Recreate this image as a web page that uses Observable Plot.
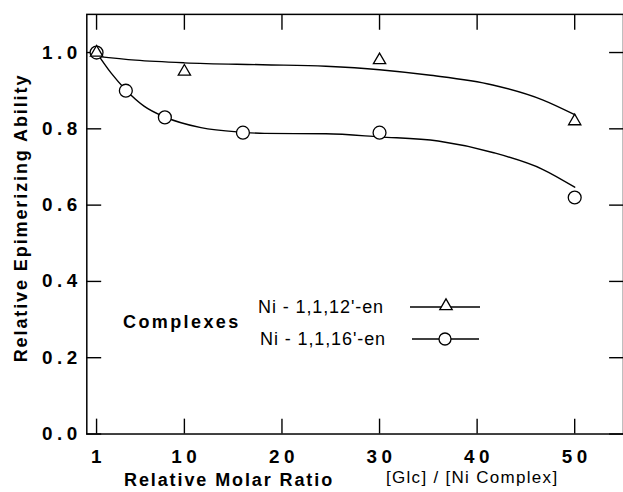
<!DOCTYPE html>
<html><head><meta charset="utf-8">
<script src="https://cdn.jsdelivr.net/npm/d3@7"></script>
<script src="https://cdn.jsdelivr.net/npm/@observablehq/plot@0.6"></script>
<style>
body{margin:0;background:#fff;}
#wrap{position:relative;width:623px;height:492px;overflow:hidden;font-family:"Liberation Sans",Arial,sans-serif;color:#000;background:#fff;}
#wrap svg{position:absolute;left:0;top:0;}
[aria-label="x-axis tick label"] text,[aria-label="y-axis tick label"] text{letter-spacing:4.6px;}
.lab{position:absolute;white-space:nowrap;transform:translateY(-50%);line-height:1;}
.rot{position:absolute;white-space:nowrap;line-height:1;transform:translate(-50%,-50%) rotate(-90deg);}
</style></head><body><div id="wrap"></div>
<script>
// ---- data ----
const xTicks = [1, 10, 20, 30, 40, 50];
const yTicks = [0, 0.2, 0.4, 0.6, 0.8, 1.0];
const seriesNames = ["Ni - 1,1,12'-en", "Ni - 1,1,16'-en"];
const legendTitle = "Complexes";
const xLabel = "Relative Molar Ratio";
const xUnit = "[Glc] / [Ni Complex]";
const yLabel = "Relative Epimerizing Ability";

// measured points
const triX = [1, 10, 30, 50];
const triY = [1.0, 0.95, 0.98, 0.82];
const cirX = [1, 4, 8, 16, 30, 50];
const cirY = [1.0, 0.90, 0.83, 0.79, 0.79, 0.62];

// hand-drawn fitted curves
const triCurveX = [1, 5, 10, 18, 24.5, 30, 35, 41.6, 46.7, 50];
const triCurveY = [0.99, 0.98, 0.973, 0.968, 0.964, 0.955, 0.941, 0.915, 0.876, 0.837];
const cirCurveX = [1, 2.5, 4, 5.9, 8, 11.7, 16, 18.2, 24.5, 30, 36, 41.6, 46.7, 50];
const cirCurveY = [1.0, 0.946, 0.902, 0.859, 0.831, 0.803, 0.791, 0.788, 0.787, 0.779, 0.768, 0.738, 0.694, 0.647];

// ---- build tables ----
const zip = (xs, ys) => xs.map((x, i) => ({x, y: ys[i]}));
const tri = zip(triX, triY), cir = zip(cirX, cirY);
const triCurve = zip(triCurveX, triCurveY), cirCurve = zip(cirCurveX, cirCurveY);

const font = '"Liberation Sans", Arial, sans-serif';
const chart = Plot.plot({
  width: 628, height: 492,
  marginLeft: 87, marginTop: 14, marginBottom: 55, marginRight: 0,
  x: {domain: [0, 55]},
  y: {domain: [0, 1.1]},
  style: {fontFamily: font, color: "#000", background: "transparent", overflow: "visible"},
  marks: [
    Plot.frame({stroke: "#000", strokeWidth: 1.5}),
    Plot.axisX(xTicks, {anchor: "bottom", tickSize: -15, strokeWidth: 1.4, tickFormat: () => "", label: null}),
    Plot.axisX(xTicks, {anchor: "bottom", tickSize: 0, tickPadding: 16, dx: 2,
      fontSize: 19, fontWeight: "bold", tickFormat: d => String(d), label: null}),
    Plot.axisX(xTicks, {anchor: "top", tickSize: -15, strokeWidth: 1.4, tickFormat: () => "", label: null}),
    Plot.axisY(yTicks, {anchor: "left", tickSize: -15, tickPadding: 20, strokeWidth: 1.4,
      fontSize: 19, fontWeight: "bold", tickFormat: d3.format(".1f"), label: null}),
    Plot.axisY(yTicks, {anchor: "right", tickSize: -15, strokeWidth: 1.4, tickFormat: () => "", label: null}),
    Plot.line(triCurve, {x: "x", y: "y", curve: "monotone-x", stroke: "#000", strokeWidth: 1.4}),
    Plot.line(cirCurve, {x: "x", y: "y", curve: "monotone-x", stroke: "#000", strokeWidth: 1.4}),
    Plot.dot(cir, {x: "x", y: "y", r: 6.5, fill: "#fff", stroke: "#000", strokeWidth: 1.3}),
    Plot.dot(tri, {x: "x", y: "y", symbol: "triangle", r: 4.6, fill: "#fff", stroke: "#000", strokeWidth: 1.3})
  ]
});
const wrap = document.getElementById("wrap");
wrap.appendChild(chart);

// ---- titles and legend (HTML overlay) ----
function addText(str, left, cy, size, weight, ls, cls = "lab") {
  const d = document.createElement("div");
  d.className = cls;
  d.textContent = str;
  Object.assign(d.style, {left: left + "px", top: cy + "px", fontSize: size + "px", fontWeight: weight, letterSpacing: ls + "px"});
  wrap.appendChild(d);
}
addText(yLabel, 21, 218, 18, "bold", 1.9, "rot");
addText(xLabel, 124, 480, 18, "bold", 1.9);
addText(xUnit, 386, 477, 17, "normal", 1.3);
addText(legendTitle, 123, 322, 18, "bold", 2.4);
addText(seriesNames[0], 258, 307, 18, "normal", 0.9);
addText(seriesNames[1], 260, 339, 18, "normal", 0.9);

const ns = "http://www.w3.org/2000/svg";
function icon(kind, x1, x2, mx, cy) {
  const s = document.createElementNS(ns, "svg");
  s.setAttribute("width", 623); s.setAttribute("height", 492);
  s.style.position = "absolute"; s.style.left = "0"; s.style.top = "0";
  const l = document.createElementNS(ns, "line");
  Object.entries({x1, x2, y1: cy, y2: cy, stroke: "#000", "stroke-width": 1.3}).forEach(([k, v]) => l.setAttribute(k, v));
  s.appendChild(l);
  let m;
  if (kind === "circle") {
    m = document.createElementNS(ns, "circle");
    Object.entries({cx: mx, cy, r: 6, fill: "#fff", stroke: "#000", "stroke-width": 1.3}).forEach(([k, v]) => m.setAttribute(k, v));
  } else {
    m = document.createElementNS(ns, "path");
    m.setAttribute("d", d3.symbol(d3.symbolTriangle, Math.PI * 4.6 * 4.6)());
    m.setAttribute("transform", `translate(${mx},${cy - 1})`);
    Object.entries({fill: "#fff", stroke: "#000", "stroke-width": 1.3}).forEach(([k, v]) => m.setAttribute(k, v));
  }
  s.appendChild(m);
  wrap.appendChild(s);
}
icon("triangle", 410, 480, 446, 307);
icon("circle", 412, 479, 445, 339);
</script></body></html>
